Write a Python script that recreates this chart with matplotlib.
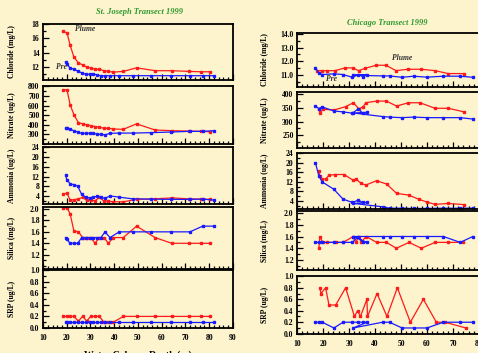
import numpy as np
import matplotlib
matplotlib.use("Agg")
import matplotlib.pyplot as plt
from matplotlib.ticker import MultipleLocator, FixedLocator

plt.rcParams['font.family'] = ['Liberation Serif', 'DejaVu Serif']
plt.rcParams['font.weight'] = 'bold'

BG = '#fdf3cd'
RED = '#ff1a1a'
BLUE = '#1a1aff'
GREEN = '#2f9a2f'

# ---- St. Joseph transect (left column) ----
sj_plume_depth = [18.3, 20.1, 21.4, 23.0, 24.9, 26.7, 28.4, 30.1, 31.9, 33.7,
                  35.7, 37.5, 39.6, 43.8, 49.4, 57.2, 64.2, 71.5, 76.5, 80.3]
sj_pre_depth = [19.5, 20.0, 21.4, 23.0, 24.6, 26.3, 28.1, 29.6, 31.0, 32.6,
                34.4, 36.1, 38.2, 42.1, 47.8, 55.3, 63.8, 71.9, 77.2, 82.0]

sj_chl_plume = [17.0, 16.8, 15.1, 13.4, 12.6, 12.3, 12.0, 11.9, 11.7, 11.7,
                11.5, 11.4, 11.3, 11.4, 11.9, 11.5, 11.5, 11.4, 11.35, 11.35]
sj_chl_pre = [12.7, 12.4, 11.9, 11.7, 11.45, 11.2, 11.0, 11.0, 11.1, 10.9,
              10.8, 10.8, 10.8, 10.8, 10.8, 10.8, 10.8, 10.8, 10.8, 10.8]
sj_nit_plume = [765, 765, 612, 506, 424, 410, 400, 392, 382, 375,
                364, 364, 357, 353, 410, 346, 339, 335, 332, 328]
sj_nit_pre = [364, 362, 353, 339, 325, 311, 311, 314, 311, 304,
              300, 296, 311, 314, 314, 318, 325, 332, 332, 339]
sj_amm_plume = [4.9, 5.2, 2.5, 2.5, 2.9, 3.5, 2.3, 2.4, 2.1, 3.5,
                2.0, 2.0, 1.7, 1.7, 2.7, 2.9, 3.3, 2.9, 2.8, 2.7]
sj_amm_pre = [12.8, 10.8, 9.1, 8.7, 8.1, 4.7, 3.5, 3.3, 3.6, 3.9,
              3.5, 3.1, 4.1, 3.6, 2.9, 2.8, 2.7, 2.7, 2.8, 2.4]
sj_sil_plume = [2.02, 2.02, 1.92, 1.62, 1.6, 1.5, 1.5, 1.5, 1.4, 1.5,
                1.5, 1.4, 1.5, 1.5, 1.7, 1.5, 1.4, 1.4, 1.4, 1.4]
sj_sil_pre = [1.5, 1.47, 1.4, 1.4, 1.4, 1.5, 1.5, 1.5, 1.5, 1.5,
              1.5, 1.6, 1.5, 1.6, 1.6, 1.6, 1.6, 1.6, 1.7, 1.7]
sj_srp_plume = [0.2, 0.2, 0.2, 0.2, 0.12, 0.2, 0.12, 0.2, 0.2, 0.2,
                0.1, 0.1, 0.1, 0.2, 0.2, 0.2, 0.2, 0.2, 0.2, 0.2]
sj_srp_pre = [0.1] * 20

# ---- Chicago transect (right column) ----
chi_pre_depth = [17.1, 18.4, 19.7, 24.2, 27.7, 31.3, 33.6, 35.3, 36.9, 31.6,
                 42.9, 45.6, 50.4, 54.9, 60.0, 66.3, 72.8, 77.6]
chi_chl_pre = [11.55, 11.15, 11.05, 11.1, 11.05, 10.85, 11.05, 10.9, 11.05, 11.0,
               10.95, 10.95, 10.85, 10.93, 10.86, 10.93, 10.93, 10.85]
chi_nit_pre = [356, 347, 353, 338, 335, 330, 346, 330, 333, 331,
               318, 316, 314, 316, 314, 314, 314, 309]
chi_amm_pre = [20.0, 14.5, 12.0, 8.9, 4.8, 3.4, 4.4, 3.4, 3.4, 3.0,
               1.6, 1.0, 1.0, 0.9, 0.9, 1.0, 1.0, 1.0]
chi_sil_pre = [1.5, 1.5, 1.5, 1.5, 1.5, 1.5, 1.6, 1.5, 1.5, 1.6,
               1.6, 1.6, 1.6, 1.6, 1.6, 1.6, 1.5, 1.6]
chi_srp_pre = [0.2, 0.2, 0.2, 0.1, 0.2, 0.2, 0.2, 0.2, 0.2, 0.1,
               0.2, 0.2, 0.1, 0.1, 0.1, 0.2, 0.2, 0.2]

chi_chl_plume_d = [17.8, 19.7, 21.5, 24.5, 28.5, 31.4, 33.7, 36.2, 40.5, 44.2,
                   48.1, 52.5, 57.7, 63.1, 68.2, 74.2]
chi_chl_plume = [11.33, 11.33, 11.33, 11.33, 11.53, 11.53, 11.33, 11.5, 11.72, 11.72,
                 11.33, 11.43, 11.43, 11.33, 11.12, 11.12]
chi_nit_plume_d = [18.4, 18.8, 20.1, 24.4, 28.7, 31.7, 33.8, 35.5, 36.4, 40.6,
                   44.4, 48.3, 52.8, 57.3, 63.1, 68.2, 74.2]
chi_nit_plume = [347, 332, 344, 342, 354, 368, 346, 354, 368, 374,
                 374, 356, 368, 368, 348, 348, 335]
chi_amm_plume_d = [18.4, 18.8, 19.5, 21.0, 22.3, 24.6, 28.1, 31.6, 32.7, 34.6,
                   36.5, 40.6, 44.5, 48.3, 52.9, 57.0, 59.9, 63.1, 68.2, 74.2]
chi_amm_plume = [16.6, 14.4, 13.2, 13.2, 14.8, 15.1, 15.1, 12.7, 13.2, 11.4,
                 10.7, 12.5, 11.1, 7.2, 6.5, 4.7, 3.6, 2.6, 3.0, 2.5]
chi_sil_plume_d = [18.4, 18.8, 19.9, 21.4, 24.9, 27.8, 31.6, 32.6, 33.8, 34.6,
                   36.6, 40.6, 44.4, 48.2, 53.1, 57.8, 63.1, 68.2, 74.0]
chi_sil_plume = [1.4, 1.6, 1.5, 1.5, 1.5, 1.5, 1.6, 1.5, 1.6, 1.5,
                 1.6, 1.5, 1.5, 1.4, 1.5, 1.4, 1.5, 1.5, 1.5]
chi_srp_plume_d = [18.8, 19.2, 21.0, 22.3, 24.9, 28.7, 32.1, 33.3, 34.4, 36.9,
                   37.1, 40.8, 44.6, 48.6, 53.6, 58.6, 63.6, 67.0, 74.9]
chi_srp_plume = [0.8, 0.7, 0.8, 0.5, 0.5, 0.8, 0.3, 0.4, 0.3, 0.6,
                 0.3, 0.7, 0.3, 0.8, 0.2, 0.6, 0.2, 0.2, 0.1]

ylabels = ['Chloride (mg/L)', 'Nitrate (ug/L)', 'Ammonia (ug/L)', 'Silica (mg/L)', 'SRP (ug/L)']

W, H = 478, 353
fig = plt.figure(figsize=(W / 100, H / 100), dpi=100, facecolor=BG)


def box(x0, x1, y0, y1):
    return [x0 / W, 1 - y1 / H, (x1 - x0) / W, (y1 - y0) / H]


def style(ax, xlim, ylim, yticks, fmt, bottom):
    ax.set_facecolor(BG)
    ax.set_xlim(*xlim)
    ax.set_ylim(*ylim)
    for s in ax.spines.values():
        s.set_linewidth(1.3)
    ax.xaxis.set_major_locator(MultipleLocator(10))
    ax.xaxis.set_minor_locator(MultipleLocator(2))
    ax.yaxis.set_major_locator(FixedLocator(yticks))
    step = yticks[1] - yticks[0]
    ax.yaxis.set_minor_locator(MultipleLocator(step / 2))
    ax.tick_params(axis='both', which='both', direction='in', top=False, right=False,
                   labelsize=5.5, width=0.9)
    ax.tick_params(which='major', length=4)
    ax.tick_params(which='minor', length=2)
    ax.tick_params(axis='y', pad=2.5)
    ax.tick_params(axis='x', pad=4)
    ax.set_yticklabels([fmt.format(v) for v in yticks])
    if not bottom:
        ax.set_xticklabels([])


def draw(ax, d1, v1, d2, v2):
    ax.plot(d1, v1, '-s', color=RED, lw=0.9, ms=1.6, mec=RED)
    ax.plot(d2, v2, '-s', color=BLUE, lw=0.9, ms=1.6, mec=BLUE)


# left column
left_rows = [(24, 80), (86, 144), (147, 204), (207, 269), (270, 328)]
left_ylims = [(10.2, 18.02), (200, 805), (0.8, 24.1), (0.95, 2.035), (0, 1.0)]
left_ticks = [[12, 14, 16, 18], [300, 400, 500, 600, 700, 800], [4, 8, 12, 16, 20, 24],
              [1.2, 1.4, 1.6, 1.8, 2.0], [0.0, 0.2, 0.4, 0.6, 0.8, 1.0]]
left_fmt = ['{:.0f}', '{:.0f}', '{:.0f}', '{:.1f}', '{:.1f}']
left_data = [(sj_chl_plume, sj_chl_pre), (sj_nit_plume, sj_nit_pre), (sj_amm_plume, sj_amm_pre),
             (sj_sil_plume, sj_sil_pre), (sj_srp_plume, sj_srp_pre)]

left_axes = []
for i, (y0, y1) in enumerate(left_rows):
    ax = fig.add_axes(box(43, 233, y0, y1))
    style(ax, (10, 90), left_ylims[i], left_ticks[i], left_fmt[i], i == 4)
    draw(ax, sj_plume_depth, left_data[i][0], sj_pre_depth, left_data[i][1])
    ax.set_ylabel(ylabels[i], fontsize=5.5, fontweight='bold')
    ax.yaxis.set_label_coords(-0.142, 0.5)
    left_axes.append(ax)

left_axes[0].text(23.5, 17.3, 'Plume', fontsize=5.5, style='italic', color='#333333', va='center')
left_axes[0].text(15.5, 12.0, 'Pre', fontsize=5.5, style='italic', color='#333333', va='center')

# right column
right_rows = [(33, 87), (92, 148), (153, 209), (211, 270), (276, 334)]
right_ylims = [(10.15, 14.05), (204, 407), (0.67, 24.1), (1.03, 2.034), (-0.005, 1.005)]
right_ticks = [[11.0, 12.0, 13.0, 14.0], [250, 300, 350, 400], [4, 8, 12, 16, 20, 24],
               [1.2, 1.4, 1.6, 1.8, 2.0], [0.0, 0.2, 0.4, 0.6, 0.8, 1.0]]
right_fmt = ['{:.1f}', '{:.0f}', '{:.0f}', '{:.1f}', '{:.1f}']
right_data = [(chi_chl_plume_d, chi_chl_plume, chi_chl_pre),
              (chi_nit_plume_d, chi_nit_plume, chi_nit_pre),
              (chi_amm_plume_d, chi_amm_plume, chi_amm_pre),
              (chi_sil_plume_d, chi_sil_plume, chi_sil_pre),
              (chi_srp_plume_d, chi_srp_plume, chi_srp_pre)]

right_axes = []
for i, (y0, y1) in enumerate(right_rows):
    ax = fig.add_axes(box(297, 479, y0, y1))
    style(ax, (10, 80), right_ylims[i], right_ticks[i], right_fmt[i], i == 4)
    pd_, pv, prev = right_data[i]
    draw(ax, pd_, pv, chi_pre_depth, prev)
    ax.set_ylabel(ylabels[i], fontsize=5.5, fontweight='bold')
    ax.yaxis.set_label_coords(-0.154, 0.5)
    right_axes.append(ax)

right_axes[0].text(46.5, 12.27, 'Plume', fontsize=5.5, style='italic', color='#333333', va='center')
right_axes[0].text(21.0, 10.7, 'Pre', fontsize=5.5, style='italic', color='#333333', va='center')

fig.text(139 / W, 1 - 12 / H, 'St. Joseph Transect 1999', color=GREEN, fontsize=6,
         style='italic', fontweight='bold', ha='center', va='center')
fig.text(387 / W, 1 - 23 / H, 'Chicago Transect 1999', color=GREEN, fontsize=6,
         style='italic', fontweight='bold', ha='center', va='center')
fig.text(138 / W, 1 - 350.5 / H, 'Water Column Depth (m)', fontsize=7, fontweight='bold',
         ha='center', va='top')

fig.savefig('out.png', dpi=100, facecolor=BG)
